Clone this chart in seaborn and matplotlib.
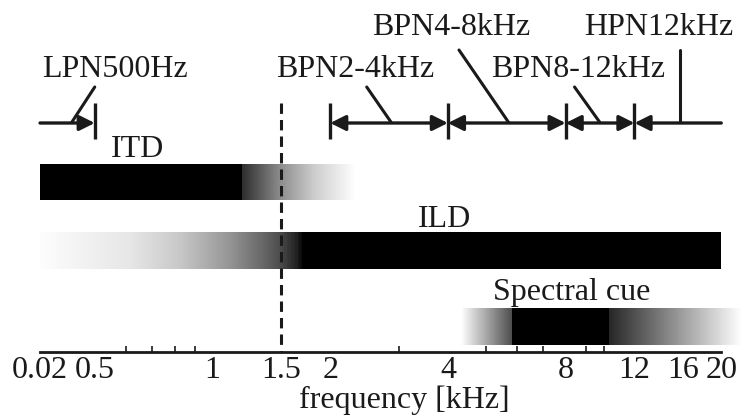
import numpy as np
import matplotlib
matplotlib.use("Agg")
import matplotlib.pyplot as plt
from matplotlib.ticker import NullFormatter
import seaborn as sns

# === DATA (frequencies in kHz, shade 0 = black, 1 = white) ===
CUES = ["ITD", "ILD", "Spectral cue"]
ITD_FREQ = [0.02, 1.19, 1.19, 1.49, 1.82, 2.33]
ITD_SHADE = [0.0, 0.0, 0.18, 0.55, 0.80, 1.0]
ILD_FREQ = [0.02, 0.365, 0.617, 0.828, 1.11, 1.35, 1.49, 1.65, 1.71, 20]
ILD_SHADE = [0.99, 0.95, 0.90, 0.78, 0.58, 0.40, 0.30, 0.12, 0.0, 0.0]
SPEC_FREQ = [4.32, 5.84, 5.84, 10.33, 10.33, 22.6]
SPEC_SHADE = [1.0, 0.3, 0.0, 0.0, 0.15, 1.0]

NOISES = ["LPN500Hz", "BPN2-4kHz", "BPN4-8kHz", "BPN8-12kHz", "HPN12kHz"]
NOISE_LO = [0.02, 2, 4, 8, 12]
NOISE_HI = [0.5, 4, 8, 12, 20]

SPLIT_FREQ = 1.5
TICKS = [0.02, 0.5, 1, 1.5, 2, 4, 8, 12, 16, 20]
TICK_LABELS = ["0.02", "0.5", "1", "1.5", "2", "4", "8", "12", "16", "20"]
MINOR_TICKS = [0.5, 0.6, 0.7, 0.8, 0.9, 1, 1.5, 2, 3, 4, 5, 6, 7, 8, 9, 10, 12, 16]

# === LAYOUT ===
W, H = 742, 416
AX_BOTTOM_PX = 352
FMIN, FMAX = 0.02, 22.6
BREAK = 0.5          # log axis above this, compressed linear piece below
SQUEEZE = 0.14       # decades given to 0.02-0.5

CUE_ROWS = [(164, 200), (232, 269), (308, 345)]
CUE_TEXT = [(0.642, 157), (3.93, 227), (8.28, 300)]
ARROW_Y = 123
BAR_Y = (103, 139)
NOISE_STYLE = ["-|>", "<|-|>", "<|-|>", "<|-|>", "<|-"]
NOISE_TEXT = [(0.564, 77), (2.31, 77), (4.08, 35), (8.63, 77), (13.8, 35)]
NOISE_LEAD = [((0.30, 122), (0.5, 87)), ((2.86, 122), (2.48, 87)),
              ((5.71, 122), (4.27, 50)), ((9.77, 122), (8.43, 87)),
              ((15.7, 122), (15.7, 50))]


def fwd(f):
    f = np.asarray(f, dtype=float)
    lg = np.log10(np.clip(f, 1e-6, None))
    lin = np.log10(BREAK) - (BREAK - f) / (BREAK - FMIN) * SQUEEZE
    return np.where(f >= BREAK, lg, lin)


def inv(g):
    g = np.asarray(g, dtype=float)
    lg = 10 ** np.clip(g, -6, 6)
    lin = BREAK - (np.log10(BREAK) - g) / SQUEEZE * (BREAK - FMIN)
    return np.where(g >= np.log10(BREAK), lg, lin)


def shade_bar(ax, freqs, shades, y0, y1):
    g = np.linspace(fwd(freqs[0]), fwd(freqs[-1]), 500)
    mids = 0.5 * (g[:-1] + g[1:])
    c = np.interp(mids, fwd(freqs), shades)
    ax.pcolormesh(inv(g), [y0, y1], c[None, :], cmap="gray", vmin=0, vmax=1,
                  shading="flat", edgecolors="none", antialiased=False)


sns.set_theme(style="white")
plt.rcParams["font.family"] = ["Liberation Serif", "DejaVu Serif"]
plt.rcParams["font.size"] = 23

fig = plt.figure(figsize=(W / 100, H / 100), dpi=100)
ax = fig.add_axes([40 / W, (H - AX_BOTTOM_PX) / H, 702 / W, AX_BOTTOM_PX / H])
ax.set_xscale("function", functions=(fwd, inv))
ax.set_xlim(FMIN, FMAX)
ax.set_ylim(AX_BOTTOM_PX, 0)

# cue bars
for (freqs, shades), (y0, y1) in zip([(ITD_FREQ, ITD_SHADE), (ILD_FREQ, ILD_SHADE),
                                      (SPEC_FREQ, SPEC_SHADE)], CUE_ROWS):
    shade_bar(ax, freqs, shades, y0, y1)
for name, (tx, ty) in zip(CUES, CUE_TEXT):
    ax.text(tx, ty, name, ha="center", va="baseline", color="k")

# noise bands
ends = sorted(set(NOISE_LO + NOISE_HI) - {FMIN, 20})
for e in ends:
    ax.plot([e, e], BAR_Y, color="k", lw=2.4, solid_capstyle="butt")
for lo, hi, style in zip(NOISE_LO, NOISE_HI, NOISE_STYLE):
    ax.annotate("", xy=(hi, ARROW_Y), xytext=(lo, ARROW_Y),
                arrowprops=dict(arrowstyle=style, color="k", lw=2.4,
                                mutation_scale=23, shrinkA=0, shrinkB=0))
for name, (tx, ty), (p0, p1) in zip(NOISES, NOISE_TEXT, NOISE_LEAD):
    ax.text(tx, ty, name, ha="center", va="baseline", color="k")
    ax.plot([p0[0], p1[0]], [p0[1], p1[1]], color="k", lw=2.2)

# ITD/ILD split
ax.plot([SPLIT_FREQ, SPLIT_FREQ], [103, AX_BOTTOM_PX], color="k", lw=2.2,
        linestyle=(0, (3.4, 2.0)))

# axis
for s in ["top", "left", "right"]:
    ax.spines[s].set_visible(False)
ax.spines["bottom"].set_color("k")
ax.spines["bottom"].set_linewidth(2)
ax.spines["bottom"].set_bounds(FMIN, 20)
ax.set_yticks([])
ax.set_xticks(TICKS, TICK_LABELS)
ax.set_xticks(MINOR_TICKS, minor=True)
ax.xaxis.set_minor_formatter(NullFormatter())
ax.tick_params(axis="x", which="major", length=0, pad=3, labelsize=23, colors="k")
ax.tick_params(axis="x", which="minor", direction="in", length=4, width=1.2,
               color="k", bottom=True)
ax.set_facecolor("white")
fig.text(404 / W, 8 / H, "frequency [kHz]", ha="center", va="baseline", color="k")

fig.savefig("out.png", dpi=100, facecolor="white")
